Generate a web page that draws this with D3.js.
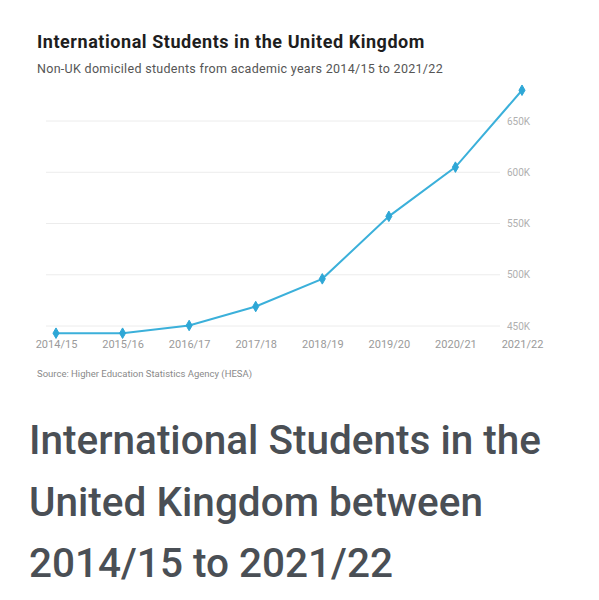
<!DOCTYPE html>
<html lang="en">
<head>
<meta charset="utf-8">
<style type="text/css">
body { margin: 0; background: #fff; }
svg { display: block; font-family: Roboto, "Noto Sans", sans-serif; }
.grid line { stroke: #ececec; stroke-width: 1px; }
.axis text { fill: #9a9a9a; font-size: 11px; }
.yaxis text { fill: #b0b0b0; font-size: 10px; }
</style>
</head>
<body>
<svg width="599" height="600"></svg>
<script src="https://d3js.org/d3.v7.min.js"></script>
<script type="text/javascript">
    var years = ["2014/15", "2015/16", "2016/17", "2017/18", "2018/19", "2019/20", "2020/21", "2021/22"];
    var students = [443000, 443000, 450500, 469000, 496000, 557000, 605000, 680000];
    var yTicks = [450000, 500000, 550000, 600000, 650000];
    var headline = ["International Students in the", "United Kingdom between", "2014/15 to 2021/22"];

    var svg = d3.select("svg");

    var x = d3.scalePoint().domain(years).range([56, 522]);
    var y = d3.scaleLinear().domain([450000, 650000]).range([326, 121]);

    // titles
    svg.append("text")
        .attr("x", 37).attr("y", 47.5)
        .attr("font-size", 18).attr("font-weight", "bold").attr("fill", "#1e1e1e")
        .attr("letter-spacing", 0.55)
        .text("International Students in the United Kingdom");
    svg.append("text")
        .attr("x", 37).attr("y", 72.5)
        .attr("font-size", 12.5).attr("fill", "#555")
        .attr("letter-spacing", 0.3)
        .text("Non-UK domiciled students from academic years 2014/15 to 2021/22");

    // grid lines
    svg.append("g").attr("class", "grid")
        .selectAll("line")
        .data(yTicks)
        .enter().append("line")
        .attr("x1", 46).attr("x2", 500)
        .attr("y1", function (d) { return y(d); })
        .attr("y2", function (d) { return y(d); });

    // y axis labels on the right
    var yAxis = d3.axisRight(y).tickValues(yTicks).tickSize(0).tickPadding(0)
        .tickFormat(function (d) { return (d / 1000) + "K"; });
    svg.append("g").attr("class", "yaxis")
        .attr("transform", "translate(507,0)")
        .call(yAxis)
        .call(function (g) { g.select(".domain").remove(); });

    // x axis
    var xAxis = d3.axisBottom(x).tickSize(0).tickPadding(0);
    svg.append("g").attr("class", "axis")
        .attr("transform", "translate(0,340)")
        .call(xAxis)
        .call(function (g) { g.select(".domain").remove(); });

    svg.selectAll(".axis, .yaxis").attr("font-family", null).attr("font-size", null);

    // line
    var line = d3.line()
        .x(function (d, i) { return x(years[i]); })
        .y(function (d) { return y(d); });

    svg.append("path")
        .datum(students)
        .attr("d", line)
        .attr("fill", "none")
        .attr("stroke", "#3bb0da")
        .attr("stroke-width", 2);

    svg.selectAll(".pt")
        .data(students)
        .enter().append("path")
        .attr("class", "pt")
        .attr("d", d3.symbol().type(d3.symbolDiamond).size(32))
        .attr("fill", "#2ea7d6")
        .attr("stroke", "#2ea7d6")
        .attr("stroke-width", 1)
        .attr("stroke-linejoin", "round")
        .attr("transform", function (d, i) { return "translate(" + x(years[i]) + "," + y(d) + ")"; });

    // source
    svg.append("text")
        .attr("x", 37).attr("y", 377)
        .attr("font-size", 9.5).attr("fill", "#8a8a8a")
        .text("Source: Higher Education Statistics Agency (HESA)");

    // headline below chart
    svg.selectAll(".headline")
        .data(headline)
        .enter().append("text")
        .attr("class", "headline")
        .attr("x", 29)
        .attr("y", function (d, i) { return 454 + i * 61.5; })
        .attr("font-size", 40.5).attr("font-weight", 500).attr("fill", "#4a4f55")
        .text(function (d) { return d; });
</script>
</body>
</html>
